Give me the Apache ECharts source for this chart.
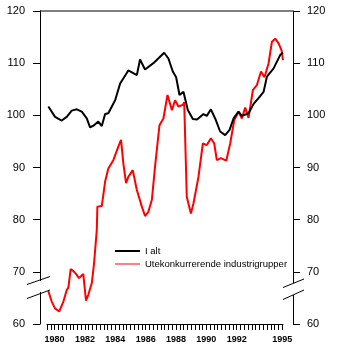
<!DOCTYPE html>
<html>
<head>
<meta charset="utf-8">
<script src="https://cdn.jsdelivr.net/npm/echarts@6/dist/echarts.min.js"></script>
<style>
html,body{margin:0;padding:0;background:#fff;}
#c{width:338px;height:350px;}
</style>
</head>
<body>
<div id="c"></div>
<script>
// ---- data ----
var seriesNames = ['I alt', 'Utekonkurrerende industrigrupper'];
var yTickValues = [60, 70, 80, 90, 100, 110, 120];
var xTickLabels = [1980, 1982, 1984, 1986, 1988, 1990, 1992, 1995];

var totalYears = [1979.59, 1980.03, 1980.47, 1980.80, 1981.13, 1981.46, 1981.79, 1982.12, 1982.34, 1982.60, 1982.88, 1983.11, 1983.33, 1983.54, 1983.66, 1983.99, 1984.32, 1984.86, 1985.42, 1985.63, 1985.96, 1986.51, 1987.22, 1987.50, 1987.79, 1988.01, 1988.23, 1988.49, 1988.78, 1989.11, 1989.39, 1989.81, 1990.03, 1990.30, 1990.58, 1990.91, 1991.24, 1991.53, 1991.79, 1992.12, 1992.34, 1992.78, 1993.11, 1993.44, 1993.77, 1993.99, 1994.43, 1994.87, 1995.05];
var totalValues = [101.7, 99.7, 99.0, 99.7, 100.9, 101.15, 100.7, 99.4, 97.7, 98.1, 98.8, 97.95, 100.25, 100.4, 100.25, 102.9, 106.1, 108.6, 107.7, 110.7, 108.8, 110.0, 112.0, 110.9, 108.4, 107.3, 103.9, 104.5, 101.0, 99.3, 99.2, 100.25, 99.9, 101.15, 99.4, 96.9, 96.2, 97.2, 99.4, 100.7, 99.9, 100.4, 102.2, 103.3, 104.5, 107.4, 109.0, 111.6, 112.0];

var exposedYears = [1979.59, 1979.81, 1980.03, 1980.31, 1980.40, 1980.58, 1980.80, 1980.91, 1981.06, 1981.23, 1981.41, 1981.61, 1981.89, 1982.07, 1982.22, 1982.45, 1982.60, 1982.78, 1982.82, 1983.11, 1983.33, 1983.54, 1983.87, 1984.20, 1984.38, 1984.53, 1984.71, 1984.86, 1985.15, 1985.42, 1985.75, 1985.96, 1986.18, 1986.41, 1986.62, 1986.91, 1987.17, 1987.44, 1987.73, 1987.94, 1988.16, 1988.45, 1988.54, 1988.71, 1988.98, 1989.15, 1989.48, 1989.77, 1990.03, 1990.30, 1990.52, 1990.69, 1990.96, 1991.31, 1991.57, 1991.84, 1992.12, 1992.34, 1992.56, 1992.78, 1993.07, 1993.33, 1993.60, 1993.83, 1994.10, 1994.32, 1994.54, 1994.76, 1994.96, 1995.05];
var exposedValues = [66.3, 64.3, 63.0, 62.4, 62.2, 64.3, 66.5, 67.0, 70.5, 70.2, 69.6, 68.8, 69.6, 64.5, 65.6, 67.8, 71.6, 78.0, 82.5, 82.6, 87.3, 89.8, 91.4, 94.0, 95.3, 90.8, 87.0, 88.2, 89.5, 85.7, 82.5, 80.7, 81.5, 83.8, 90.2, 98.1, 99.4, 103.9, 101.0, 102.9, 101.7, 102.0, 102.5, 84.4, 81.2, 83.1, 88.2, 94.6, 94.3, 95.6, 94.6, 91.4, 91.8, 91.3, 94.6, 99.1, 100.7, 99.4, 101.5, 99.5, 104.9, 105.8, 108.4, 107.3, 110.0, 114.1, 114.7, 113.8, 112.4, 110.6];

function pairs(xs, ys) { return xs.map(function (x, i) { return [x, ys[i]]; }); }

var chart = echarts.init(document.getElementById('c'), null, {renderer: 'canvas'});
var FONT = '"Liberation Sans", Arial, Helvetica, sans-serif';

var yAxisCommon = {
  type: 'value', min: 60, max: 120, interval: 10,
  splitLine: {show: false},
  axisLine: {show: true, lineStyle: {color: '#000', width: 1}},
  axisTick: {show: true, length: 7, inside: false, lineStyle: {color: '#000', width: 1}},
  axisLabel: {color: '#000', fontSize: 11, fontFamily: FONT, margin: 15}
};

chart.setOption({
  animation: false,
  backgroundColor: '#fff',
  grid: {left: 47, right: 55, top: 11, bottom: 26, containLabel: false},
  legend: {
    orient: 'vertical', left: 115, top: 246, padding: 0,
    itemWidth: 25, itemHeight: 10, itemGap: 3,
    textStyle: {color: '#000', fontSize: 9.5, fontFamily: FONT, lineHeight: 10},
    data: [
      {name: seriesNames[0], icon: 'path://M0,4 L25,4 L25,6 L0,6 Z', itemStyle: {color: '#000'}},
      {name: seriesNames[1], icon: 'path://M0,4.5 L25,4.5 L25,5.5 L0,5.5 Z', itemStyle: {color: '#ff0000'}}
    ]
  },
  xAxis: {
    type: 'value', min: 1979.5, max: 1995.05, interval: 0.25,
    splitLine: {show: false},
    axisLine: {show: true, onZero: false, lineStyle: {color: '#000', width: 1}},
    axisTick: {show: true, length: 6, lineStyle: {color: '#000', width: 1}},
    axisLabel: {
      color: '#000', fontSize: 9, fontWeight: 'bold', fontFamily: FONT, margin: 11,
      showMinLabel: true, showMaxLabel: false,
      formatter: function (v) {
        for (var i = 0; i < xTickLabels.length; i++) {
          if (Math.abs(v - xTickLabels[i]) < 1e-6) return String(xTickLabels[i]);
        }
        return '';
      }
    }
  },
  yAxis: [
    Object.assign({}, yAxisCommon, {position: 'left', offset: 7}),
    Object.assign({}, yAxisCommon, {position: 'right', offset: 10,
      axisLabel: {color: '#000', fontSize: 11, fontFamily: FONT, margin: 14}})
  ],
  series: [
    {
      name: seriesNames[0], type: 'line', data: pairs(totalYears, totalValues),
      showSymbol: false, symbol: 'none', smooth: false,
      lineStyle: {color: '#000', width: 2}, itemStyle: {color: '#000'}, z: 3
    },
    {
      name: seriesNames[1], type: 'line', data: pairs(exposedYears, exposedValues),
      showSymbol: false, symbol: 'none', smooth: false,
      lineStyle: {color: '#ff0000', width: 2}, itemStyle: {color: '#ff0000'}, z: 2
    }
  ],
  graphic: [
    {type: 'line', shape: {x1: 40, y1: 11, x2: 293, y2: 11}, style: {stroke: '#000', lineWidth: 1}, z: 10},
    {type: 'rect', shape: {x: 37, y: 281, width: 6, height: 11}, style: {fill: '#fff'}, z: 10},
    {type: 'rect', shape: {x: 290, y: 283, width: 6, height: 12}, style: {fill: '#fff'}, z: 10},
    {type: 'line', shape: {x1: 27, y1: 284.5, x2: 50, y2: 276.5}, style: {stroke: '#000', lineWidth: 1}, z: 11},
    {type: 'line', shape: {x1: 27, y1: 298.5, x2: 50, y2: 290}, style: {stroke: '#000', lineWidth: 1}, z: 11},
    {type: 'line', shape: {x1: 283, y1: 287.5, x2: 304, y2: 279}, style: {stroke: '#000', lineWidth: 1}, z: 11},
    {type: 'line', shape: {x1: 283, y1: 299.5, x2: 304, y2: 290}, style: {stroke: '#000', lineWidth: 1}, z: 11}
  ]
});
</script>
</body>
</html>
